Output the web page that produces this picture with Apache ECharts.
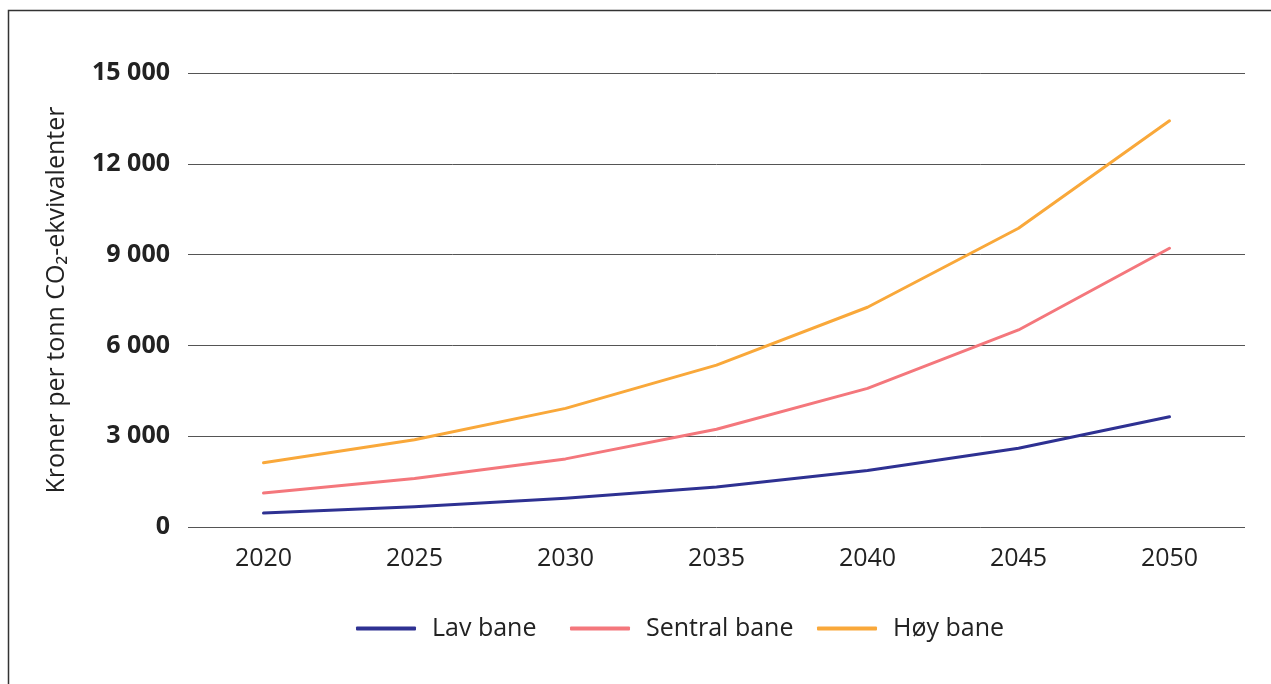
<!DOCTYPE html>
<html>
<head>
<meta charset="utf-8">
<script src="https://cdn.jsdelivr.net/npm/echarts@6/dist/echarts.min.js"></script>
<style>
html,body{margin:0;padding:0;background:#fff;}
#c{width:1271px;height:684px;}
</style>
</head>
<body>
<div id="c"></div>
<script>
const years = ['2020','2025','2030','2035','2040','2045','2050'];
const lavBane = [460, 670, 950, 1320, 1870, 2600, 3640];
const sentralBane = [1120, 1600, 2250, 3230, 4580, 6510, 9210];
const hoyBane = [2120, 2880, 3920, 5350, 7260, 9870, 13420];
const yTicks = {min: 0, max: 15000, interval: 3000};
const seriesNames = ['Lav bane', 'Sentral bane', 'Høy bane'];
const colors = ['#2e3192', '#f4777c', '#f9a83a'];

const font = '"Open Sans", "Noto Sans", sans-serif';
const chart = echarts.init(document.getElementById('c'));
const mk = (name, data, color) => ({
  name, type: 'line', data, symbol: 'none',
  lineStyle: {color, width: 3, cap: 'round', join: 'round'},
  itemStyle: {color}
});
const legendLeft = [356, 570, 817];
const legends = seriesNames.map((n, i) => ({
  top: 616, left: legendLeft[i], padding: 0,
  icon: 'roundRect', itemWidth: 60, itemHeight: 4,
  textStyle: {fontFamily: font, fontSize: 25, color: '#222', padding: [0, 0, 0, 11]},
  data: [n]
}));
chart.setOption({
  animation: false,
  backgroundColor: '#fff',
  graphic: [{
    type: 'rect', shape: {x: 8.5, y: 10.5, width: 1400, height: 800},
    style: {fill: 'none', stroke: '#333', lineWidth: 1.5}, silent: true, z: -10
  }],
  grid: {left: 188, right: 26, top: 73, bottom: 157},
  legend: legends,
  xAxis: {
    type: 'category', data: years, boundaryGap: true,
    axisLine: {show: false}, axisTick: {show: false},
    axisLabel: {fontFamily: font, fontSize: 25, color: '#222', margin: 19}
  },
  yAxis: {
    type: 'value', min: yTicks.min, max: yTicks.max, interval: yTicks.interval,
    name: 'Kroner per tonn CO₂-ekvivalenter', nameLocation: 'middle', nameGap: 119,
    nameTextStyle: {fontFamily: font, fontSize: 25, color: '#222'},
    axisLine: {show: false}, axisTick: {show: false},
    splitLine: {lineStyle: {color: '#555', width: 1}},
    axisLabel: {
      fontFamily: font, fontSize: 25, fontWeight: 'bold', color: '#222', margin: 18,
      padding: [4, 0, 0, 0],
      formatter: v => String(v).replace(/\B(?=(\d{3})+(?!\d))/g, ' ')
    }
  },
  series: [
    mk(seriesNames[0], lavBane, colors[0]),
    mk(seriesNames[1], sentralBane, colors[1]),
    mk(seriesNames[2], hoyBane, colors[2])
  ]
});
</script>
</body>
</html>
